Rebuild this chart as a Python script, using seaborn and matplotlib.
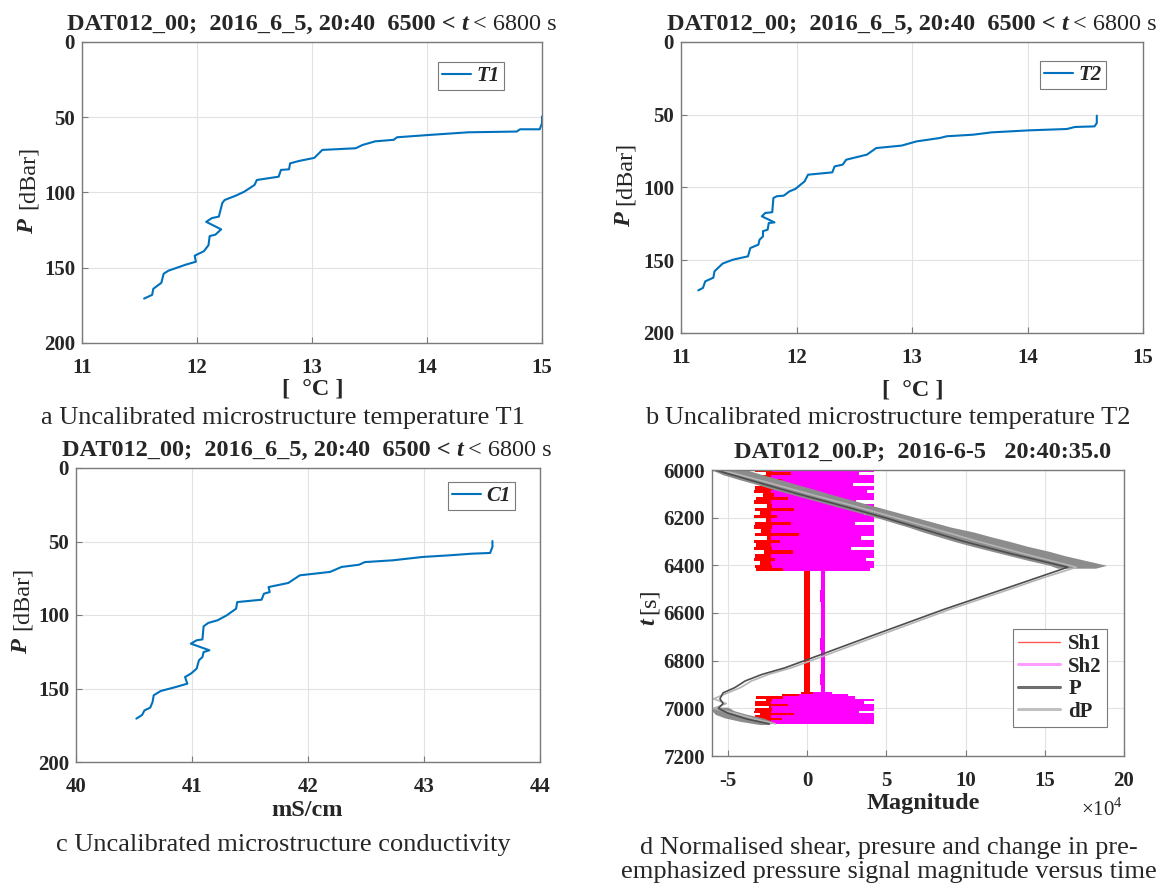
import matplotlib
matplotlib.use("Agg")
import matplotlib.pyplot as plt
from matplotlib.lines import Line2D
import seaborn as sns

# ---- data ----
t1_temp = [15.0, 15.0, 14.98, 14.81, 14.78, 14.36, 14.03, 13.74, 13.71, 13.55,
           13.44, 13.38, 13.09, 13.02, 12.89, 12.81, 12.80, 12.73, 12.71, 12.52,
           12.50, 12.41, 12.34, 12.24, 12.22, 12.19, 12.13, 12.08, 12.21, 12.16,
           12.11, 12.10, 12.06, 11.98, 11.99, 11.90, 11.75, 11.71, 11.69, 11.62,
           11.61, 11.54]
t1_pres = [49.5, 54, 58, 58, 59.5, 60, 61.7, 63.3, 65, 66,
           68.4, 70.6, 71.7, 77, 79, 80.6, 84.6, 85, 89.5, 91.7,
           95, 99.5, 102, 105, 107, 116, 117, 119.5, 124.5, 128,
           129, 135, 139, 142, 146, 148, 152, 154, 160, 164,
           168, 170.5]

t2_temp = [14.60, 14.60, 14.58, 14.41, 14.34, 14.02, 13.69, 13.53, 13.30, 13.24,
           13.04, 12.91, 12.69, 12.61, 12.43, 12.40, 12.33, 12.31, 12.10, 12.07,
           11.99, 11.94, 11.89, 11.83, 11.80, 11.79, 11.73, 11.70, 11.81, 11.76,
           11.75, 11.71, 11.71, 11.68, 11.67, 11.60, 11.58, 11.45, 11.36, 11.29,
           11.28, 11.21, 11.19, 11.15]
t2_pres = [50.6, 55.7, 58, 58.4, 59.8, 60.7, 62.1, 63.7, 64.8, 66,
           68.3, 71.2, 72.9, 77.4, 80.9, 84.3, 85.5, 89.6, 91.2, 95.8,
           101, 102.6, 105.6, 106, 107.2, 117, 117.5, 119.8, 124, 124.4,
           129, 130, 133.6, 135.9, 139.3, 141.6, 147.3, 149.6, 152.3, 157.6,
           162, 164.5, 169, 170.7]

c1_cond = [43.59, 43.59, 43.57, 43.41, 43.22, 42.99, 42.73, 42.49, 42.44, 42.29,
           42.19, 41.93, 41.83, 41.66, 41.67, 41.62, 41.60, 41.39, 41.38, 41.30,
           41.22, 41.14, 41.10, 41.09, 41.04, 40.99, 41.15, 41.10, 41.09, 41.06,
           41.04, 40.99, 40.94, 40.96, 40.86, 40.73, 40.67, 40.66, 40.64, 40.59,
           40.57, 40.52]
c1_pres = [49.7, 53.7, 57.8, 58.3, 59.4, 60.5, 62.8, 64, 65.8, 67.3,
           70.7, 73, 78.2, 81, 84.4, 85.5, 89.6, 91.2, 95.7, 100.2,
           103.6, 105.4, 107.7, 116.6, 117.2, 119.5, 124, 125.2, 128.6, 130.8,
           136.5, 139.9, 142.2, 146.7, 149, 151.7, 154.6, 159.2, 163, 164.9,
           168, 170.5]

# panel d, magnitudes in units of 1e4
p_time = [6000, 6050, 6100, 6150, 6200, 6250, 6300, 6350, 6408, 6450, 6500, 6584, 6700,
          6795, 6830, 6858, 6885, 6913, 6935, 6960, 6980, 7000, 7020, 7045, 7065]
p_mag = [-5.8, -3.2, -0.6, 2.2, 4.9, 7.4, 9.9, 12.8, 16.45, 14.6, 12.4, 8.67, 3.9,
         0.04, -1.4, -2.86, -3.9, -4.56, -5.3, -5.5, -5.3, -5.6, -5.0, -3.8, -2.4]
dp_mag = [-5.4, -2.6, 0.1, 2.9, 5.6, 8.2, 10.8, 13.6, 17.0, 15.0, 12.8, 9.05, 4.3,
          0.45, -1.0, -2.45, -3.5, -4.2, -5.0, -5.9, -5.1, -5.9, -4.6, -3.3, -2.0]

# spread of the noisy dP trace
dp_env_t = [6000, 6020, 6040, 6060, 6080, 6100, 6120, 6140, 6160, 6180, 6200,
            6220, 6240, 6260, 6280, 6300, 6320, 6340, 6360, 6380, 6400, 6412]
dp_env_lo = [-6.0, -5.3, -4.3, -3.2, -2.2, -1.1, 0.0, 1.1, 2.2, 3.3, 4.4,
             5.4, 6.4, 7.3, 8.3, 9.3, 10.4, 11.6, 12.8, 14.0, 15.3, 15.8]
dp_env_hi = [-3.8, -2.8, -1.7, -0.7, 0.4, 1.4, 2.5, 3.6, 4.7, 5.8, 6.9,
             8.0, 9.1, 10.5, 11.6, 12.8, 13.9, 15.2, 16.3, 17.6, 18.9, 18.2]
dp_env2_t = [6995, 7010, 7025, 7040, 7055, 7068]
dp_env2_lo = [-5.9, -6.0, -5.8, -5.2, -4.2, -3.0]
dp_env2_hi = [-5.0, -4.6, -3.8, -2.8, -2.2, -2.4]

# spread of the shear probe signals
sh_time = [6000, 6015, 6030, 6045, 6060, 6075, 6090, 6105, 6120, 6135, 6150, 6165,
           6180, 6195, 6210, 6225, 6240, 6255, 6270, 6285, 6300, 6315, 6330, 6345,
           6360, 6375, 6390, 6405, 6418,
           6430, 6480, 6530, 6580, 6630, 6680, 6730, 6780, 6830, 6880, 6925,
           6935, 6945, 6955, 6965, 6975, 6985, 6995, 7005, 7015, 7025, 7035, 7045,
           7055, 7065]
sh1_lo = [-3.3, -2.6, -3.35, -3.1, -2.4, -3.3, -3.35, -2.8, -3.2, -3.35, -2.5, -3.3,
          -3.0, -3.35, -2.6, -3.3, -3.35, -2.9, -3.3, -2.5, -3.35, -3.2, -3.35, -2.7,
          -3.3, -3.35, -3.0, -3.3, -3.2,
          -0.17, -0.17, -0.2, -0.17, -0.17, -0.17, -0.2, -0.17, -0.17, -0.2, -0.17,
          -0.4, -1.6, -3.2, -2.6, -3.3, -3.3, -2.4, -3.3, -3.35, -3.0, -3.3, -3.35,
          -2.5, -3.3]
sh1_hi = [2.0, 1.2, 2.4, 1.8, 0.9, 2.2, 1.5, 2.5, 1.9, 1.1, 2.3, 2.0,
          1.4, 2.4, 1.7, 2.1, 1.0, 2.3, 1.9, 1.5, 2.4, 1.8, 2.2, 1.3,
          2.0, 2.4, 1.6, 2.1, 1.8,
          0.17, 0.17, 0.2, 0.17, 0.17, 0.17, 0.2, 0.17, 0.17, 0.2, 0.17,
          0.5, 1.2, 1.8, 2.2, 1.5, 2.4, 1.9, 2.3, 1.6, 2.2, 2.0, 2.4,
          1.7, 1.5]
sh2_lo = [-2.2, -1.0, -2.3, -1.6, -2.2, -0.6, -2.3, -2.1, -1.2, -2.3, -2.2, -0.8,
          -2.3, -1.9, -2.3, -1.0, -2.2, -2.3, -0.5, -2.3, -1.7, -2.3, -2.2, -0.9,
          -2.3, -2.0, -2.3, -2.2, -1.5,
          0.85, 0.85, 0.82, 0.85, 0.85, 0.85, 0.82, 0.85, 0.85, 0.82, 0.85,
          0.4, -0.5, -1.5, -2.2, -2.3, -1.2, -2.3, -2.2, -2.3, -0.8, -2.3, -1.6,
          -2.3, -2.2]
sh2_hi = [4.2, 3.3, 4.25, 4.2, 2.9, 4.2, 3.8, 4.25, 4.2, 3.1, 4.25, 4.2,
          3.6, 4.25, 4.2, 3.0, 4.25, 4.2, 4.25, 3.4, 4.2, 4.25, 2.8, 4.25,
          4.2, 3.7, 4.25, 4.2, 4.0,
          1.12, 1.12, 1.15, 1.12, 1.12, 1.12, 1.15, 1.12, 1.12, 1.15, 1.12,
          1.6, 2.6, 3.0, 4.2, 3.6, 4.25, 4.2, 4.25, 3.3, 4.25, 4.2, 4.25,
          4.2, 4.25]

profile_title = ["DAT012_00;  2016_6_5, 20:40  6500 <", "t", "< 6800 s"]
captions = ["a Uncalibrated microstructure temperature T1",
            "b Uncalibrated microstructure temperature T2",
            "c Uncalibrated microstructure conductivity",
            "d Normalised shear, presure and change in pre-\nemphasized pressure signal magnitude versus time"]

# ---- style ----
sns.set_theme(style="white")
plt.rcParams["font.family"] = ["Liberation Serif", "DejaVu Serif"]
plt.rcParams["mathtext.fontset"] = "custom"
plt.rcParams["mathtext.rm"] = "Liberation Serif"
plt.rcParams["axes.unicode_minus"] = False

W, H = 1161, 889
fig = plt.figure(figsize=(W / 100, H / 100), dpi=100)
BLUE = "#0072BD"
SPINE = "#7a7a7a"
LAB = 17.5


def rect(l, t, r, b):
    return [l / W, 1 - b / H, (r - l) / W, (b - t) / H]


def fx(x):
    return x / W


def fy(y):
    return 1 - y / H


def style_axes(ax, xlim, xticks, ylim, yticks):
    ax.set_xlim(xlim)
    ax.set_ylim(ylim)
    ax.set_xticks(xticks)
    ax.set_yticks(yticks)
    ax.set_xlabel("")
    ax.set_ylabel("")
    ax.grid(True, color="#e2e2e2", lw=0.8)
    ax.set_axisbelow(True)
    for sp in ax.spines.values():
        sp.set_color(SPINE)
        sp.set_linewidth(1.0)
    ax.tick_params(direction="in", length=4, width=0.8, color=SPINE,
                   labelsize=15, bottom=True, left=True)
    ax.tick_params(axis="x", pad=10.5)
    ax.tick_params(axis="y", pad=5)
    for lbl in ax.get_xticklabels() + ax.get_yticklabels():
        lbl.set_fontweight("bold")


def rich_title(ax, cx, cy, parts, size=LAB):
    arts = []
    first = ax.text(fx(cx), fy(cy), parts[0][0], transform=fig.transFigure,
                    ha="left", va="center", fontsize=size,
                    fontweight=parts[0][1], fontstyle=parts[0][2])
    arts.append(first)
    prev = first
    for s, w, st in parts[1:]:
        a = ax.annotate(s, xy=(1, 0), xycoords=prev, xytext=(4, 0),
                        textcoords="offset points", ha="left", va="bottom",
                        fontsize=size, fontweight=w, fontstyle=st,
                        annotation_clip=False)
        arts.append(a)
        prev = a
    return arts


def ylab(x, y_sym, y_unit, sym, unit):
    fig.text(fx(x), fy(y_sym), sym, rotation=90, ha="center", va="center",
             fontsize=LAB, fontweight="bold", fontstyle="italic")
    fig.text(fx(x), fy(y_unit), unit, rotation=90, ha="center", va="center",
             fontsize=LAB)


def leg(ax, label, anchor):
    lg = ax.legend(loc="upper right", bbox_to_anchor=anchor, borderaxespad=0,
                   fancybox=False, edgecolor=SPINE, framealpha=1,
                   handlelength=1.4, handletextpad=0.25, borderpad=0.2,
                   prop=dict(family="Liberation Serif", weight="bold",
                             style="italic", size=15))
    lg.get_frame().set_linewidth(0.8)
    lg.texts[0].set_text(label)


title_parts = [(profile_title[0], "bold", "normal"),
               (profile_title[1], "bold", "italic"),
               (profile_title[2], "normal", "normal")]
titles = []

# ---- panel a ----
ax_a = fig.add_axes(rect(82, 42, 542, 343))
sns.lineplot(x=t1_temp, y=t1_pres, sort=False, estimator=None, color=BLUE,
             lw=1.5, label="T1", ax=ax_a)
style_axes(ax_a, (11, 15), [11, 12, 13, 14, 15], (200, 0), [0, 50, 100, 150, 200])
leg(ax_a, "T1", (0.917, 0.934))
titles.append((rich_title(ax_a, 60, 24, title_parts), 312))
ylab(28, 227, 177, "P", "[dBar]")
fig.text(fx(313), fy(389), "[  °C ]", ha="center", va="center", fontsize=LAB,
         fontweight="bold")

# ---- panel b ----
ax_b = fig.add_axes(rect(681, 42, 1143, 333))
sns.lineplot(x=t2_temp, y=t2_pres, sort=False, estimator=None, color=BLUE,
             lw=1.5, label="T2", ax=ax_b)
style_axes(ax_b, (11, 15), [11, 12, 13, 14, 15], (200, 0), [0, 50, 100, 150, 200])
leg(ax_b, "T2", (0.920, 0.935))
titles.append((rich_title(ax_b, 660, 24, title_parts), 912))
ylab(625, 220, 173, "P", "[dBar]")
fig.text(fx(913), fy(390), "[  °C ]", ha="center", va="center", fontsize=LAB,
         fontweight="bold")

# ---- panel c ----
ax_c = fig.add_axes(rect(76, 468, 540, 762))
sns.lineplot(x=c1_cond, y=c1_pres, sort=False, estimator=None, color=BLUE,
             lw=1.5, label="C1", ax=ax_c)
style_axes(ax_c, (40, 44), [40, 41, 42, 43, 44], (200, 0), [0, 50, 100, 150, 200])
leg(ax_c, "C1", (0.946, 0.952))
titles.append((rich_title(ax_c, 56, 450, title_parts), 307))
ylab(22, 647, 598, "P", "[dBar]")
fig.text(fx(307), fy(810), "mS/cm", ha="center", va="center", fontsize=LAB,
         fontweight="bold")

# ---- panel d ----
ax_d = fig.add_axes(rect(712, 470, 1124, 756))
ax_d.fill_betweenx(sh_time, sh1_lo, sh1_hi, step="mid", color="#ff0000", lw=0)
ax_d.fill_betweenx(sh_time, sh2_lo, sh2_hi, step="mid", color="#ff00ff", lw=0)
ax_d.fill_betweenx(dp_env_t, dp_env_lo, dp_env_hi, color="#8c8c8c", lw=0)
ax_d.fill_betweenx(dp_env2_t, dp_env2_lo, dp_env2_hi, color="#8c8c8c", lw=0)
sns.lineplot(x=dp_mag, y=p_time, sort=False, estimator=None, color="#b4b4b4",
             lw=1.2, ax=ax_d)
sns.lineplot(x=p_mag, y=p_time, sort=False, estimator=None, color="#4d4d4d",
             lw=1.2, ax=ax_d)
style_axes(ax_d, (-6, 20), [-5, 0, 5, 10, 15, 20], (7200, 6000),
           [6000, 6200, 6400, 6600, 6800, 7000, 7200])
handles = [Line2D([], [], color="#ff5a5a", lw=1),
           Line2D([], [], color="#ff9cff", lw=2.2),
           Line2D([], [], color="#6e6e6e", lw=2.2),
           Line2D([], [], color="#c0c0c0", lw=2.2)]
lg = ax_d.legend(handles, ["Sh1", "Sh2", "P", "dP"], loc="upper right",
                 bbox_to_anchor=(0.959, 0.444), borderaxespad=0, fancybox=False,
                 edgecolor=SPINE, framealpha=1, handlelength=2.0,
                 handletextpad=0.4, borderpad=0.25, labelspacing=0.12,
                 prop=dict(family="Liberation Serif", weight="bold", size=15))
lg.get_frame().set_linewidth(0.8)
fig.text(fx(923), fy(452), "DAT012_00.P;  2016-6-5   20:40:35.0",
         ha="center", va="center", fontsize=LAB, fontweight="bold")
ylab(649, 622, 601, "t", "[s]")
fig.text(fx(923), fy(804), "Magnitude", ha="center", va="center", fontsize=LAB,
         fontweight="bold")
fig.text(fx(1102), fy(809), "×10$^{4}$", ha="center", va="center", fontsize=15)

# ---- captions ----
fig.text(fx(283), fy(418), captions[0], ha="center", va="center", fontsize=19)
fig.text(fx(888), fy(418), captions[1], ha="center", va="center", fontsize=19)
fig.text(fx(283), fy(845), captions[2], ha="center", va="center", fontsize=19)
fig.text(fx(889), fy(860), captions[3], ha="center", va="center", fontsize=19,
         linespacing=1.15)

# centre the composed titles over their axes
fig.canvas.draw()
r = fig.canvas.get_renderer()
for arts, cx in titles:
    x0 = arts[0].get_window_extent(r).x0
    x1 = arts[-1].get_window_extent(r).x1
    shift = cx - (x0 + x1) / 2
    px, py = arts[0].get_position()
    arts[0].set_position((px + shift / W, py))

fig.savefig("out.png", dpi=100)
